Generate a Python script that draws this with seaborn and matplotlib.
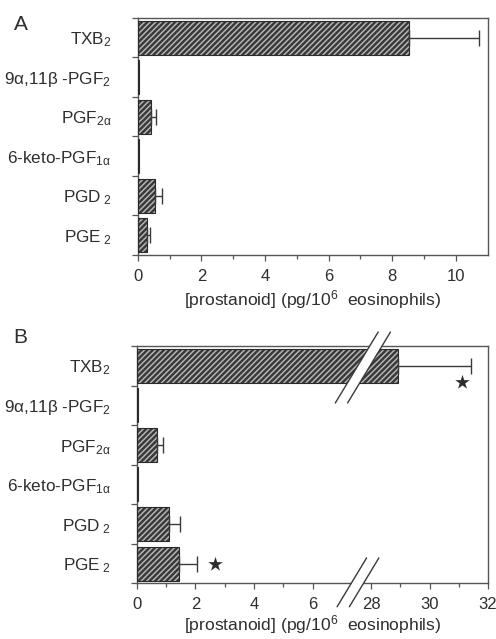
import numpy as np
import matplotlib
matplotlib.use("Agg")
import matplotlib.pyplot as plt
import seaborn as sns

# categories (same for both panels)
categories = ["TXB$_2$", "9\u03b1,11\u03b2 -PGF$_2$", "PGF$_{2\u03b1}$",
              "6-keto-PGF$_{1\u03b1}$", "PGD$_{\\ 2}$", "PGE$_{\\ 2}$"]

# panel A: mean and mean + SEM
a_values = [8.52, 0.05, 0.41, 0.05, 0.54, 0.28]
a_upper = [10.73, 0.05, 0.58, 0.05, 0.77, 0.40]

# panel B: mean and mean + SEM (TXB2 sits past the axis break)
b_values = [28.91, 0.03, 0.67, 0.03, 1.11, 1.44]
b_upper = [31.43, 0.03, 0.88, 0.03, 1.47, 2.04]
b_star_cats = [0, 5]
b_star_x = [31.1, 2.67]

b_tick_labels = ["0", "2", "4", "6", "28", "30", "32"]
BREAK_SHIFT = 20  # values above the break are drawn 20 units to the left

sns.set_theme(style="white")
plt.rcParams["font.family"] = ["Liberation Sans", "DejaVu Sans"]
plt.rcParams["mathtext.fontset"] = "custom"
plt.rcParams["mathtext.rm"] = "Liberation Sans"
plt.rcParams["mathtext.it"] = "Liberation Sans:italic"
plt.rcParams["mathtext.bf"] = "Liberation Sans:bold"
plt.rcParams["mathtext.default"] = "regular"
plt.rcParams["hatch.linewidth"] = 1.1

TXT = "#2e2e2e"
FILL = "#383838"
STRIPE = "#b4b4b4"
FRAME = "#555555"
FS = 12.3


def to_axis(v):
    v = np.asarray(v, dtype=float)
    return np.where(v > 15, v - BREAK_SHIFT, v)


def draw_panel(ax, values, upper, xlim, lpad):
    sns.barplot(x=values, y=categories, orient="h", ax=ax, color=FILL,
                errorbar=None, width=0.86, hatch="//////", edgecolor=STRIPE,
                linewidth=0, saturation=1)
    # dark outline on each bar
    for p in list(ax.patches):
        ax.add_patch(plt.Rectangle(p.get_xy(), p.get_width(), p.get_height(),
                                   fill=False, edgecolor="#2a2a2a", lw=0.8, zorder=3))
    vals = np.asarray(values, float)
    ups = np.asarray(upper, float)
    idx = np.where(ups > vals)[0]
    ax.errorbar(vals[idx], idx, xerr=[np.zeros(len(idx)), (ups - vals)[idx]],
                fmt="none", ecolor="#3a3a3a", elinewidth=1.0, capsize=5.5,
                capthick=1.0, zorder=4)
    ax.set_xlim(*xlim)
    ax.set_ylim(5.5, -0.5)
    ax.set_ylabel("")
    ax.set_yticks(range(len(categories)))
    ax.set_yticklabels(categories)
    ax.set_yticks(np.arange(-0.5, 6.0, 1.0), minor=True)
    ax.tick_params(axis="y", which="major", length=0, pad=19, labelsize=FS,
                   colors=TXT)
    ax.tick_params(axis="y", which="minor", left=True, length=4, width=0.9,
                   color=FRAME, direction="out")
    ax.tick_params(axis="x", which="major", bottom=True, length=4, width=0.9,
                   color=FRAME, direction="out", pad=6, labelsize=12,
                   labelcolor=TXT)
    ax.tick_params(axis="x", which="minor", bottom=True, length=3, width=0.9,
                   color=FRAME, direction="out")
    for s in ax.spines.values():
        s.set_color(FRAME)
        s.set_linewidth(1.0)
    ax.set_xlabel("[prostanoid] (pg/10$^{6}$  eosinophils)", fontsize=12.6,
                  color=TXT, labelpad=lpad)


fig = plt.figure(figsize=(4.96, 6.39), dpi=100)
axA = fig.add_axes([0.2776, 0.601, 0.7056, 0.3712])
axB = fig.add_axes([0.2762, 0.0872, 0.7077, 0.3713])

# ---- panel A
draw_panel(axA, a_values, a_upper, (0, 11), 3)
axA.set_xticks(np.arange(0, 11, 2))
axA.set_xticks(np.arange(1, 11, 2), minor=True)

# ---- panel B (broken axis)
draw_panel(axB, list(to_axis(b_values)), list(to_axis(b_upper)), (0, 12), 0.5)
axB.set_xticks(np.arange(0, 13, 2))
axB.set_xticklabels(b_tick_labels)
axB.set_xticks([1, 3, 5, 9, 11], minor=True)

axB.scatter(to_axis(b_star_x), [b_star_cats[0] + 0.42, b_star_cats[1]],
            marker="*", s=120, color="#2e2e2e", zorder=5, linewidths=0)

# break marks: white gap between two parallel slashes
tr = axB.get_xaxis_transform()


def break_mark(x0, y0, y1, gap=0.42, slope=4.9):
    xa1 = x0 + (y1 - y0) * slope
    poly = plt.Polygon([[x0, y0], [xa1, y1], [xa1 + gap, y1], [x0 + gap, y0]],
                       closed=True, facecolor="white", edgecolor="none",
                       transform=tr, clip_on=False, zorder=6)
    axB.add_patch(poly)
    for dx in (0, gap):
        axB.plot([x0 + dx, xa1 + dx], [y0, y1], color="#3a3a3a", lw=1.0,
                 transform=tr, clip_on=False, zorder=7)


break_mark(6.84, -0.099, 0.107)
break_mark(6.78, 0.76, 1.059)

fig.text(0.028, 0.962, "A", fontsize=15, color=TXT, ha="left", va="center")
fig.text(0.026, 0.472, "B", fontsize=15, color=TXT, ha="left", va="center")

fig.savefig("out.png", dpi=100, facecolor="white")
